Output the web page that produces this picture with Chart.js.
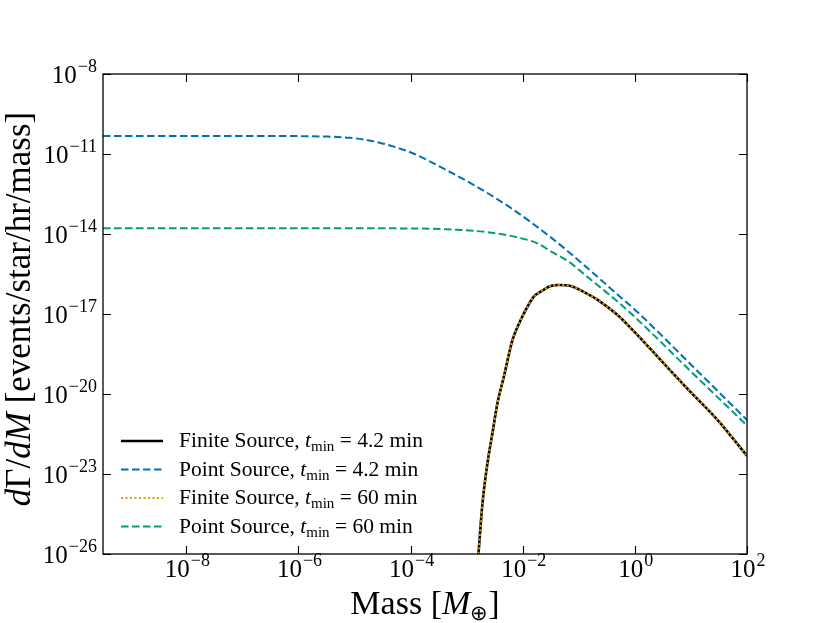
<!DOCTYPE html>
<html>
<head>
<meta charset="utf-8">
<script src="https://cdn.jsdelivr.net/npm/chart.js@4.4.0/dist/chart.umd.min.js"></script>
<style>
  html, body { margin: 0; padding: 0; background: #fff; }
  #wrap { position: relative; width: 830px; height: 623px; font-family: 'Liberation Serif', serif; color: #000; overflow: hidden; }
  canvas { position: absolute; left: 0; top: 0; }
  .lg { position: absolute; left: 179px; font-size: 21.5px; white-space: nowrap; line-height: 1; transform: translateY(-50%); }
  .lg sub { font-size: 15px; vertical-align: -4px; line-height: 0; }
  .tk { position: absolute; font-size: 25px; line-height: 25px; white-space: nowrap; }
  .tk .ex { font-size: 18px; position: relative; top: -11px; margin-left: 1px; }
  #ytitle { position: absolute; left: 18px; top: 309px; transform: translate(-50%, -50%) rotate(-90deg); white-space: nowrap; font-size: 35px; line-height: 1; }
  #xtitle { position: absolute; left: 425px; top: 603px; transform: translate(-50%, -50%); white-space: nowrap; font-size: 34px; line-height: 1; }
  #xtitle sub { font-size: 21px; vertical-align: -6px; line-height: 0; }
  svg { position: absolute; left: 0; top: 0; }
</style>
</head>
<body>
<div id="wrap">
  <canvas id="c" width="830" height="623"></canvas>
  <svg width="830" height="623" id="lgsvg"></svg>
  <div id="legend"></div>
  <div id="ticklabels"></div>
  <div id="ytitle"><i>d</i>Γ/<i>dM</i> [events/star/hr/mass]</div>
  <div id="xtitle">Mass [<i>M</i><sub>⊕</sub>]</div>
</div>
<script>
// ---- data (log10 values) ----
const finiteLogMass = [-2.83, -2.789, -2.718, -2.629, -2.540, -2.451, -2.338, -2.183, -2.036, -1.947, -1.804, -1.715, -1.501, -1.354, -1.145, -0.914, -0.664, -0.308, -0.077, 0.048, 0.511, 0.992, 1.473, 2.0];
const finiteLogRate = [-27.0, -25.96, -24.09, -22.59, -21.46, -20.34, -19.36, -17.97, -17.22, -16.85, -16.35, -16.21, -15.95, -15.91, -15.95, -16.17, -16.47, -17.04, -17.52, -17.79, -18.84, -19.92, -20.97, -22.32];

const pointShortLogMass = [-9.487, -6.871, -5.980, -5.535, -5.089, -4.822, -4.554, -4.251, -3.961, -3.365, -2.772, -2.178, -1.465, -0.870, -0.276, 0.050, 1.007, 2.0];
const pointShortLogRate = [-10.325, -10.326, -10.330, -10.345, -10.390, -10.460, -10.576, -10.756, -10.973, -11.600, -12.286, -13.073, -14.183, -15.233, -16.332, -16.935, -18.911, -20.973];

const pointLongLogMass = [-9.487, -6, -4.554, -3.365, -2.474, -2.023, -1.75, -1.465, -1.17, -0.870, -0.276, 0.050, 1.007, 2.0];
const pointLongLogRate = [-13.786, -13.786, -13.788, -13.823, -13.973, -14.164, -14.34, -14.693, -15.05, -15.570, -16.594, -17.213, -19.17, -21.18];

const xTickValues = [1e-8, 1e-6, 1e-4, 1e-2, 1e0, 1e2];
const xTickExponents = ['−8', '−6', '−4', '−2', '0', '2'];
const yTickValues = [1e-26, 1e-23, 1e-20, 1e-17, 1e-14, 1e-11, 1e-8];
const yTickExponents = ['−26', '−23', '−20', '−17', '−14', '−11', '−8'];

const seriesNames = [
  'Finite Source, <i>t</i><sub>min</sub> = 4.2 min',
  'Point Source, <i>t</i><sub>min</sub> = 4.2 min',
  'Finite Source, <i>t</i><sub>min</sub> = 60 min',
  'Point Source, <i>t</i><sub>min</sub> = 60 min'
];

const xMin = Math.pow(10, -9.487), xMax = 100;
const yMin = 1e-26, yMax = 1e-8;

function toPoints(lx, ly) {
  return lx.map((v, i) => ({ x: Math.pow(10, v), y: Math.pow(10, ly[i]) }));
}

const styles = [
  { color: '#000000', width: 2.6, dash: [] },
  { color: '#0072B2', width: 2, dash: [7.5, 3.5] },
  { color: '#E69F00', width: 2, dash: [2, 2.5] },
  { color: '#009E73', width: 2, dash: [7.5, 3.5] }
];

const dataSets = [
  toPoints(finiteLogMass, finiteLogRate),
  toPoints(pointShortLogMass, pointShortLogRate),
  toPoints(finiteLogMass, finiteLogRate),
  toPoints(pointLongLogMass, pointLongLogRate)
];
const drawOrder = [1, 2, 0, 3];

const frameTicks = {
  id: 'frameTicks',
  afterDraw(chart) {
    const { ctx, chartArea: a, scales: { x, y } } = chart;
    ctx.save();
    ctx.strokeStyle = '#000';
    ctx.lineWidth = 1.3;
    ctx.strokeRect(a.left, a.top, a.right - a.left, a.bottom - a.top);
    const L = 8;
    ctx.lineWidth = 1.1;
    ctx.beginPath();
    x.ticks.forEach(t => {
      const px = Math.round(x.getPixelForValue(t.value)) + 0.5;
      ctx.moveTo(px, a.bottom); ctx.lineTo(px, a.bottom - L);
      ctx.moveTo(px, a.top); ctx.lineTo(px, a.top + L);
    });
    y.ticks.forEach(t => {
      const py = Math.round(y.getPixelForValue(t.value)) + 0.5;
      ctx.moveTo(a.left, py); ctx.lineTo(a.left + L, py);
      ctx.moveTo(a.right, py); ctx.lineTo(a.right - L, py);
    });
    ctx.stroke();
    ctx.restore();
  }
};

const chart = new Chart(document.getElementById('c'), {
  type: 'line',
  data: {
    datasets: dataSets.map((d, i) => ({
      label: seriesNames[i].replace(/<[^>]+>/g, ''),
      data: d,
      borderColor: styles[i].color,
      borderWidth: styles[i].width,
      borderDash: styles[i].dash,
      pointRadius: 0,
      fill: false,
      cubicInterpolationMode: 'monotone',
      order: drawOrder[i]
    }))
  },
  options: {
    responsive: false,
    animation: false,
    devicePixelRatio: 1,
    layout: { padding: { left: 0, right: 83, top: 74, bottom: 0 } },
    plugins: { legend: { display: false }, tooltip: { enabled: false } },
    scales: {
      x: {
        type: 'logarithmic',
        min: xMin, max: xMax,
        grid: { display: false, drawTicks: false },
        border: { display: false },
        afterBuildTicks: s => { s.ticks = xTickValues.map(v => ({ value: v })); },
        afterFit: s => { s.height = 69; },
        ticks: { display: false, autoSkip: false }
      },
      y: {
        type: 'logarithmic',
        min: yMin, max: yMax,
        grid: { display: false, drawTicks: false },
        border: { display: false },
        afterBuildTicks: s => { s.ticks = yTickValues.map(v => ({ value: v })); },
        afterFit: s => { s.width = 103; },
        ticks: { display: false, autoSkip: false }
      }
    }
  },
  plugins: [frameTicks]
});

// tick labels placed with the chart's own scales
const tl = document.getElementById('ticklabels');
function addTick(exp, left, top, tf) {
  const d = document.createElement('div');
  d.className = 'tk';
  d.innerHTML = '10<span class="ex">' + exp + '</span>';
  d.style.left = left + 'px';
  d.style.top = top + 'px';
  d.style.transform = tf;
  tl.appendChild(d);
}
const xs = chart.scales.x, ys = chart.scales.y;
xTickValues.forEach((v, i) => {
  addTick(xTickExponents[i], xs.getPixelForValue(v) + 1, ys.bottom + 2, 'translateX(-50%)');
});
yTickValues.forEach((v, i) => {
  addTick(yTickExponents[i], xs.left - 6, ys.getPixelForValue(v) - 12.4, 'translateX(-100%)');
});

// legend (HTML, inside plot area, lower left)
const rowY = [441, 469.5, 498, 526.5];
const svg = document.getElementById('lgsvg');
const leg = document.getElementById('legend');
seriesNames.forEach((name, i) => {
  const ln = document.createElementNS('http://www.w3.org/2000/svg', 'line');
  ln.setAttribute('x1', 121); ln.setAttribute('x2', 163);
  ln.setAttribute('y1', rowY[i]); ln.setAttribute('y2', rowY[i]);
  ln.setAttribute('stroke', styles[i].color);
  ln.setAttribute('stroke-width', styles[i].width);
  if (styles[i].dash.length) ln.setAttribute('stroke-dasharray', styles[i].dash.join(','));
  svg.appendChild(ln);
  const d = document.createElement('div');
  d.className = 'lg';
  d.style.top = rowY[i] + 'px';
  d.innerHTML = name;
  leg.appendChild(d);
});
</script>
</body>
</html>
